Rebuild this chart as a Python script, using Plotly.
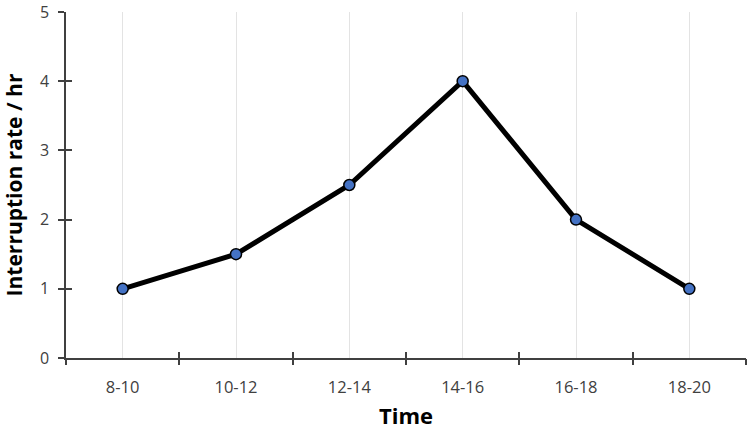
import plotly.graph_objects as go

times = ["8-10", "10-12", "12-14", "14-16", "16-18", "18-20"]
rates = [1, 1.5, 2.5, 4, 2, 1]
y_ticks = [0, 1, 2, 3, 4, 5]

idx = list(range(len(times)))
bounds = [i - 0.5 for i in range(len(times) + 1)]
axis_col = "#404040"
font_fam = "Open Sans, Lato, sans-serif"

fig = go.Figure()
fig.add_trace(go.Scatter(
    x=idx, y=rates, mode="lines+markers",
    line=dict(color="black", width=5),
    marker=dict(size=11, color="#4472C4", line=dict(color="black", width=1.5)),
    showlegend=False, hoverinfo="skip", cliponaxis=False,
))
fig.add_trace(go.Scatter(x=[bounds[0]], y=[0], xaxis="x2", yaxis="y2", mode="markers",
                         marker=dict(opacity=0), showlegend=False, hoverinfo="skip"))
fig.add_trace(go.Scatter(x=[bounds[0]], y=[0], xaxis="x3", yaxis="y", mode="markers",
                         marker=dict(opacity=0), showlegend=False, hoverinfo="skip"))

xr = [bounds[0], bounds[-1]]
yr = [0, 5]

fig.update_layout(
    width=750, height=430,
    margin=dict(l=66, r=4, t=12, b=72),
    paper_bgcolor="white", plot_bgcolor="white",
    font=dict(family=font_fam, color=axis_col, size=16),
    xaxis=dict(
        range=xr, tickmode="array", tickvals=idx, ticktext=times,
        showgrid=True, gridcolor="#e3e3e3", gridwidth=1,
        showline=True, linecolor=axis_col, linewidth=1.5,
        ticks="outside", ticklen=6, tickcolor="rgba(0,0,0,0)",
        ticklabelstandoff=7, zeroline=False, ticklabeloverflow="allow",
        automargin=False,
        tickfont=dict(size=16.5, color=axis_col),
        title=dict(text="<b>Time</b>", font=dict(size=22, color="black"), standoff=12),
    ),
    yaxis=dict(
        range=yr, tickmode="array", tickvals=y_ticks,
        showgrid=False, zeroline=False,
        showline=True, linecolor=axis_col, linewidth=1.5,
        ticks="outside", ticklen=6, tickcolor=axis_col, tickwidth=1.5,
        ticklabelstandoff=6, ticklabeloverflow="allow",
        automargin=False,
        tickfont=dict(size=16, color=axis_col),
        title=dict(text="<b>Interruption rate / hr</b>", font=dict(size=21, color="black"), standoff=12),
    ),
    xaxis2=dict(
        overlaying="x", range=xr, tickmode="array", tickvals=bounds,
        showticklabels=False, showgrid=False, zeroline=False, showline=False,
        ticks="outside", ticklen=6, tickcolor=axis_col, tickwidth=1.5,
        automargin=False,
    ),
    yaxis2=dict(
        overlaying="y", range=yr, tickmode="array", tickvals=y_ticks,
        showticklabels=False, showgrid=False, zeroline=False, showline=False,
        ticks="inside", ticklen=6, tickcolor=axis_col, tickwidth=1.5,
        automargin=False,
    ),
    xaxis3=dict(
        overlaying="x", range=xr, tickmode="array", tickvals=bounds,
        showticklabels=False, showgrid=False, zeroline=False, showline=False,
        ticks="inside", ticklen=6, tickcolor=axis_col, tickwidth=1.5,
        automargin=False,
    ),
)

fig.write_html("out.html")
